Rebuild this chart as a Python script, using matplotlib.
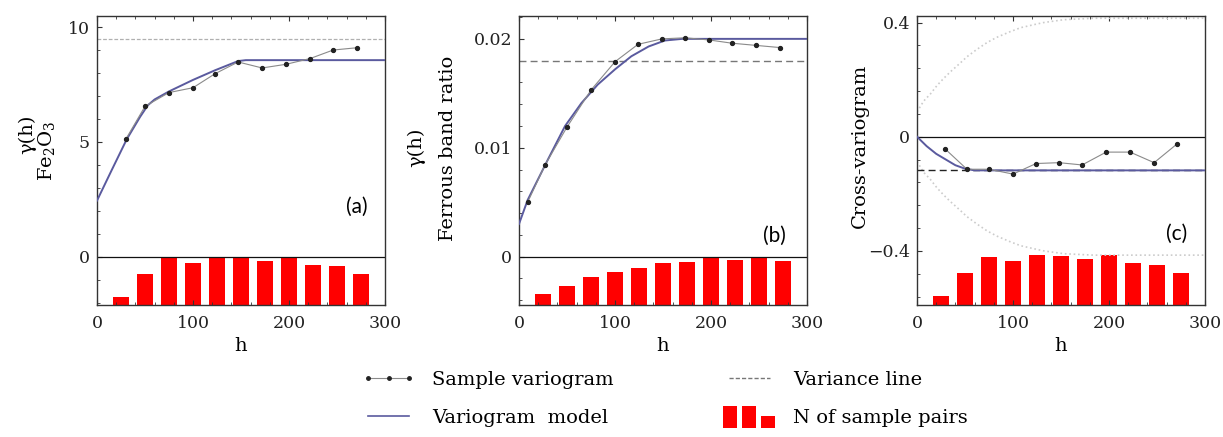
import numpy as np
import matplotlib
matplotlib.use("Agg")
import matplotlib.pyplot as plt
from matplotlib.legend_handler import HandlerBase
from matplotlib.lines import Line2D
from matplotlib.patches import Rectangle
from matplotlib.ticker import AutoMinorLocator

# lag classes of the pair histograms
lag_centres = [25, 50, 75, 100, 125, 150, 175, 200, 225, 250, 275]
pairs_fe2o3 = [172, 650, 970, 875, 1000, 980, 915, 1000, 840, 810, 645]
pairs_ferrous = [214, 366, 546, 654, 734, 834, 854, 934, 886, 954, 866]

# (a) Fe2O3
fe_h = [30, 50, 75, 100, 123, 147, 172, 197, 222, 246, 271]
fe_gamma = [5.12, 6.55, 7.15, 7.36, 7.97, 8.48, 8.22, 8.38, 8.63, 9.0, 9.1]
fe_model_h = [0, 15, 31, 45, 53, 60, 75, 100, 123, 147, 155, 300]
fe_model = [2.45, 3.75, 5.12, 6.1, 6.6, 6.85, 7.2, 7.7, 8.12, 8.52, 8.56, 8.56]
fe_variance = 9.47

# (b) ferrous band ratio
fb_h = [9, 27, 50, 75, 100, 124, 149, 173, 198, 222, 247, 272]
fb_gamma = [0.0050, 0.0084, 0.0119, 0.0153, 0.0179, 0.0195, 0.0200, 0.0201,
            0.0199, 0.0196, 0.0194, 0.0192]
fb_model_h = [0, 9, 30, 48, 65, 82, 100, 117, 135, 152, 170, 300]
fb_model = [0.0030, 0.0052, 0.0089, 0.0120, 0.0141, 0.0158, 0.0172, 0.0184,
            0.0193, 0.01985, 0.0200, 0.0200]
fb_variance = 0.0180

# (c) cross-variogram
cv_h = [29, 52, 75, 100, 124, 148, 172, 197, 222, 247, 271]
cv_gamma = [-0.042, -0.114, -0.114, -0.131, -0.094, -0.091, -0.099, -0.054,
            -0.054, -0.091, -0.025]
cv_model_h = [0, 10, 20, 30, 40, 50, 60, 300]
cv_model = [0.0, -0.033, -0.06, -0.08, -0.10, -0.112, -0.118, -0.118]
cv_variance = -0.118
hull_h = [0, 7, 14, 21, 28, 35, 45, 52, 62, 73, 83, 97, 108, 125, 132, 153, 184, 300]
hull = [0.087, 0.125, 0.15, 0.18, 0.205, 0.228, 0.258, 0.28, 0.305, 0.33, 0.348,
        0.368, 0.382, 0.395, 0.40, 0.41, 0.415, 0.415]

MODEL_C = "#5a5a9e"
SAMPLE_C = "#8a8a8a"
BAR_C = "#ff0000"

plt.rcParams["font.family"] = "DejaVu Serif"
plt.rcParams["mathtext.fontset"] = "dejavuserif"

fig = plt.figure(figsize=(12.23, 4.37), dpi=100)
W, H = 1223, 437


def make_axes(left, right, top=16, bottom=305):
    return fig.add_axes([left / W, 1 - bottom / H, (right - left) / W, (bottom - top) / H])


def style_axes(ax, ylim, yticks, yfmt):
    ax.set_xlim(0, 300)
    ax.set_ylim(*ylim)
    ax.set_xticks([0, 100, 200, 300])
    ax.set_yticks(yticks)
    ax.set_yticklabels([yfmt(v) for v in yticks])
    ax.xaxis.set_minor_locator(AutoMinorLocator(5))
    ax.yaxis.set_minor_locator(AutoMinorLocator(5))
    ax.tick_params(which="both", direction="in", top=True, right=True,
                   colors="#333333", labelcolor="#222222", labelsize=12.5)
    ax.tick_params(which="major", length=3.5, width=0.8)
    ax.tick_params(which="minor", length=2, width=0.6)
    ax.tick_params(axis="x", pad=7)
    ax.tick_params(axis="y", pad=5)
    for s in ax.spines.values():
        s.set_color("#333333")
        s.set_linewidth(1.0)
    ax.text(0.5, -0.142, "h", transform=ax.transAxes, ha="center", va="center",
            fontsize=14)


def pair_bars(ax, counts, base):
    lo, hi = ax.get_ylim()
    frac = (base - lo) / (hi - lo)
    bx = ax.twinx()
    bx.bar(lag_centres, counts, width=16, color=BAR_C, edgecolor="none")
    bx.set_ylim(0, max(counts) / frac)
    bx.set_yticks([])
    bx.tick_params(which="both", right=False, labelright=False)
    bx.set_zorder(ax.get_zorder() - 1)
    ax.patch.set_visible(False)
    for s in bx.spines.values():
        s.set_visible(False)


def curves(ax, hs, gs, hm, gm):
    ax.plot(hm, gm, color=MODEL_C, lw=1.4, zorder=3)
    ax.plot(hs, gs, color=SAMPLE_C, lw=0.8, marker="o", ms=2.8,
            mfc="#222222", mec="#222222", zorder=4)


# (a)
ax_a = make_axes(97, 385)
style_axes(ax_a, (-2.09, 10.48), [0, 5, 10], lambda v: f"{v:g}")
ax_a.axhline(0, color="#111111", lw=0.9)
ax_a.axhline(fe_variance, color="#b0b0b0", lw=0.9, dashes=(3, 1.5))
curves(ax_a, fe_h, fe_gamma, fe_model_h, fe_model)
pair_bars(ax_a, pairs_fe2o3, 0)
ax_a.text(-0.243, 0.592, "γ(h)", transform=ax_a.transAxes, rotation=90,
          ha="center", va="center", fontsize=14)
ax_a.text(-0.177, 0.533, "Fe$_2$O$_3$", transform=ax_a.transAxes, rotation=90,
          ha="center", va="center", fontsize=14)
ax_a.text(0.903, 0.339, "(a)", transform=ax_a.transAxes, ha="center", va="center",
          fontsize=15, family="Lato")

# (b)
ax_b = make_axes(519, 807)
style_axes(ax_b, (-0.00444, 0.0221), [0, 0.01, 0.02],
           lambda v: "0" if v == 0 else f"{v:.2f}")
ax_b.axhline(0, color="#111111", lw=0.9)
ax_b.axhline(fb_variance, color="#777777", lw=1.0, dashes=(5, 3))
curves(ax_b, fb_h, fb_gamma, fb_model_h, fb_model)
pair_bars(ax_b, pairs_ferrous, 0)
ax_b.text(-0.356, 0.547, "γ(h)", transform=ax_b.transAxes, rotation=90,
          ha="center", va="center", fontsize=14)
ax_b.text(-0.248, 0.543, "Ferrous band ratio", transform=ax_b.transAxes, rotation=90,
          ha="center", va="center", fontsize=14)
ax_b.text(0.886, 0.239, "(b)", transform=ax_b.transAxes, ha="center", va="center",
          fontsize=15, family="Lato")

# (c)
ax_c = make_axes(917, 1205)
style_axes(ax_c, (-0.5897, 0.4229), [-0.4, 0, 0.4],
           lambda v: "0" if v == 0 else f"{v:.1f}".replace("-", "\u2212"))
ax_c.axhline(0, color="#111111", lw=0.9)
ax_c.plot(hull_h, hull, color="#cccccc", lw=1.2, ls=":", zorder=2)
ax_c.plot(hull_h, [-v for v in hull], color="#cccccc", lw=1.2, ls=":", zorder=2)
ax_c.axhline(cv_variance, color="#222222", lw=1.0, dashes=(5, 3))
curves(ax_c, cv_h, cv_gamma, cv_model_h, cv_model)
pair_bars(ax_c, pairs_fe2o3, -hull[-1])
ax_c.text(-0.197, 0.550, "Cross-variogram", transform=ax_c.transAxes, rotation=90,
          ha="center", va="center", fontsize=14)
ax_c.text(0.903, 0.246, "(c)", transform=ax_c.transAxes, ha="center", va="center",
          fontsize=15, family="Lato")


class PairBarsHandler(HandlerBase):
    def create_artists(self, legend, orig_handle, xdescent, ydescent,
                       width, height, fontsize, trans):
        rel = [1.0, 1.0, 0.55]
        bw = width / 3.6
        gap = (width - 3 * bw) / 2.0
        y0 = -ydescent - 0.35 * height
        return [Rectangle((-xdescent + i * (bw + gap), y0), bw, 1.6 * height * r,
                          facecolor=BAR_C, edgecolor="none", transform=trans)
                for i, r in enumerate(rel)]


h_sample = Line2D([], [], color=SAMPLE_C, lw=0.8, marker="o", ms=2.5,
                  mfc="#222222", mec="#222222")
h_model = Line2D([], [], color=MODEL_C, lw=1.2)
h_var = Line2D([], [], color="#777777", lw=1.0, dashes=(3, 1.5))
h_bars = Rectangle((0, 0), 1, 1)

fig.legend([h_sample, h_model, h_var, h_bars],
           ["Sample variogram", "Variogram  model", "Variance line", "N of sample pairs"],
           handler_map={Rectangle: PairBarsHandler()}, numpoints=3,
           loc="center", bbox_to_anchor=(665 / W, 1 - 399 / H), ncol=2,
           frameon=False, fontsize=14, handlelength=2.7, handletextpad=0.9,
           columnspacing=5.6, labelspacing=1.05, borderpad=0, borderaxespad=0)

fig.savefig("out.png", dpi=100)
